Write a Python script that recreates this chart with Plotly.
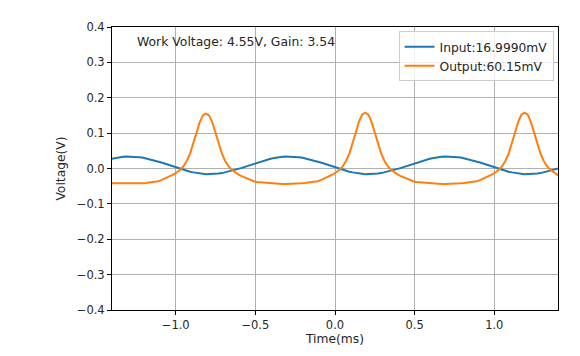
import plotly.graph_objects as go

# sample grid (ms)
time_ms = [round(-1.41 + 0.02 * k, 2) for k in range(142)]

input_v = [
    0.027, 0.029, 0.031, 0.032, 0.033, 0.034, 0.034,
    0.034, 0.033, 0.032, 0.031, 0.029, 0.027, 0.025, 0.022, 0.020, 0.017, 0.014, 0.011, 0.007,
    0.004, 0.001, -0.002, -0.004, -0.007, -0.009, -0.011, -0.013, -0.014, -0.015, -0.016, -0.016,
    -0.016, -0.015, -0.014, -0.013, -0.011, -0.009, -0.007, -0.004, -0.002, 0.001, 0.004, 0.007,
    0.011, 0.014, 0.017, 0.020, 0.022, 0.025, 0.027, 0.029, 0.031, 0.032, 0.033, 0.034, 0.034,
    0.034, 0.033, 0.032, 0.031, 0.029, 0.027, 0.025, 0.022, 0.020, 0.017, 0.014, 0.011, 0.007,
    0.004, 0.001, -0.002, -0.004, -0.007, -0.009, -0.011, -0.013, -0.014, -0.015, -0.016, -0.016,
    -0.016, -0.015, -0.014, -0.013, -0.011, -0.009, -0.007, -0.004, -0.002, 0.001, 0.004, 0.007,
    0.011, 0.014, 0.017, 0.020, 0.022, 0.025, 0.027, 0.029, 0.031, 0.032, 0.033, 0.034, 0.034,
    0.034, 0.033, 0.032, 0.031, 0.029, 0.027, 0.025, 0.022, 0.020, 0.017, 0.014, 0.011, 0.007,
    0.004, 0.001, -0.002, -0.004, -0.007, -0.009, -0.011, -0.013, -0.014, -0.015, -0.016, -0.016,
    -0.016, -0.015, -0.014, -0.013, -0.011, -0.009, -0.007, -0.004, -0.002, 0.001,
]

output_v = [
    -0.042, -0.042, -0.043, -0.043, -0.044, -0.044,
    -0.044, -0.043, -0.043, -0.042, -0.042, -0.041, -0.040, -0.039, -0.038, -0.036, -0.033, -0.029,
    -0.025, -0.021, -0.016, -0.010, -0.003, 0.007, 0.022, 0.042, 0.068, 0.100, 0.130, 0.150, 0.155,
    0.150, 0.130, 0.100, 0.068, 0.042, 0.022, 0.007, -0.003, -0.010, -0.016, -0.021, -0.025, -0.029,
    -0.033, -0.036, -0.038, -0.039, -0.040, -0.041, -0.042, -0.042, -0.043, -0.043, -0.044, -0.044,
    -0.044, -0.043, -0.043, -0.042, -0.042, -0.041, -0.040, -0.039, -0.038, -0.036, -0.033, -0.029,
    -0.025, -0.021, -0.016, -0.010, -0.003, 0.007, 0.022, 0.042, 0.069, 0.101, 0.132, 0.152, 0.158,
    0.152, 0.131, 0.100, 0.068, 0.042, 0.022, 0.007, -0.003, -0.010, -0.016, -0.021, -0.025, -0.029,
    -0.033, -0.036, -0.038, -0.039, -0.040, -0.041, -0.042, -0.042, -0.043, -0.043, -0.044, -0.044,
    -0.044, -0.043, -0.043, -0.042, -0.042, -0.041, -0.040, -0.039, -0.038, -0.036, -0.033, -0.029,
    -0.025, -0.021, -0.016, -0.010, -0.003, 0.007, 0.022, 0.042, 0.069, 0.101, 0.132, 0.152, 0.158,
    0.152, 0.131, 0.100, 0.068, 0.042, 0.022, 0.007, -0.003, -0.010, -0.016, -0.021,
]

series_names = ["Input:16.9990mV", "Output:60.15mV"]
annotation_text = "Work Voltage: 4.55V, Gain: 3.54"
x_ticks = [-1.0, -0.5, 0.0, 0.5, 1.0]
y_ticks = [-0.4, -0.3, -0.2, -0.1, 0.0, 0.1, 0.2, 0.3, 0.4]

font = "DejaVu Sans"
txt = "#262626"
fig = go.Figure()
fig.add_trace(go.Scatter(x=time_ms, y=input_v, mode="lines", name=series_names[0],
                         line=dict(color="#1f77b4", width=2)))
fig.add_trace(go.Scatter(x=time_ms, y=output_v, mode="lines", name=series_names[1],
                         line=dict(color="#ff7f0e", width=2)))

axis_common = dict(showline=True, linecolor="black", linewidth=1, mirror=True,
                   ticks="outside", ticklen=4, tickcolor="black",
                   showgrid=True, gridcolor="#b0b0b0", gridwidth=1,
                   zeroline=False, tickfont=dict(family=font, size=11.5, color=txt))
fig.update_xaxes(range=[-1.4, 1.4], tickvals=x_ticks, tickformat=".1f",
                 title=dict(text="Time(ms)", font=dict(family=font, size=12.3, color=txt), standoff=2),
                 **axis_common)
fig.update_yaxes(range=[-0.4, 0.4], tickvals=y_ticks, tickformat=".1f",
                 title=dict(text="Voltage(V)", font=dict(family=font, size=12.3, color=txt), standoff=8),
                 **axis_common)

fig.add_annotation(text=annotation_text, xref="paper", yref="paper", x=0.052, y=0.95,
                   xanchor="left", yanchor="middle", showarrow=False,
                   font=dict(family=font, size=12.4, color=txt))

fig.update_layout(
    width=580, height=356,
    margin=dict(l=104, r=30, t=17, b=54),
    paper_bgcolor="white", plot_bgcolor="white",
    font=dict(family=font, size=12, color=txt),
    legend=dict(x=0.99, y=0.985, xanchor="right", yanchor="top",
                bgcolor="rgba(255,255,255,0.8)", bordercolor="#cccccc", borderwidth=1,
                font=dict(family=font, size=12.3, color=txt), tracegroupgap=0),
    showlegend=True,
)

fig.write_html("out.html")
